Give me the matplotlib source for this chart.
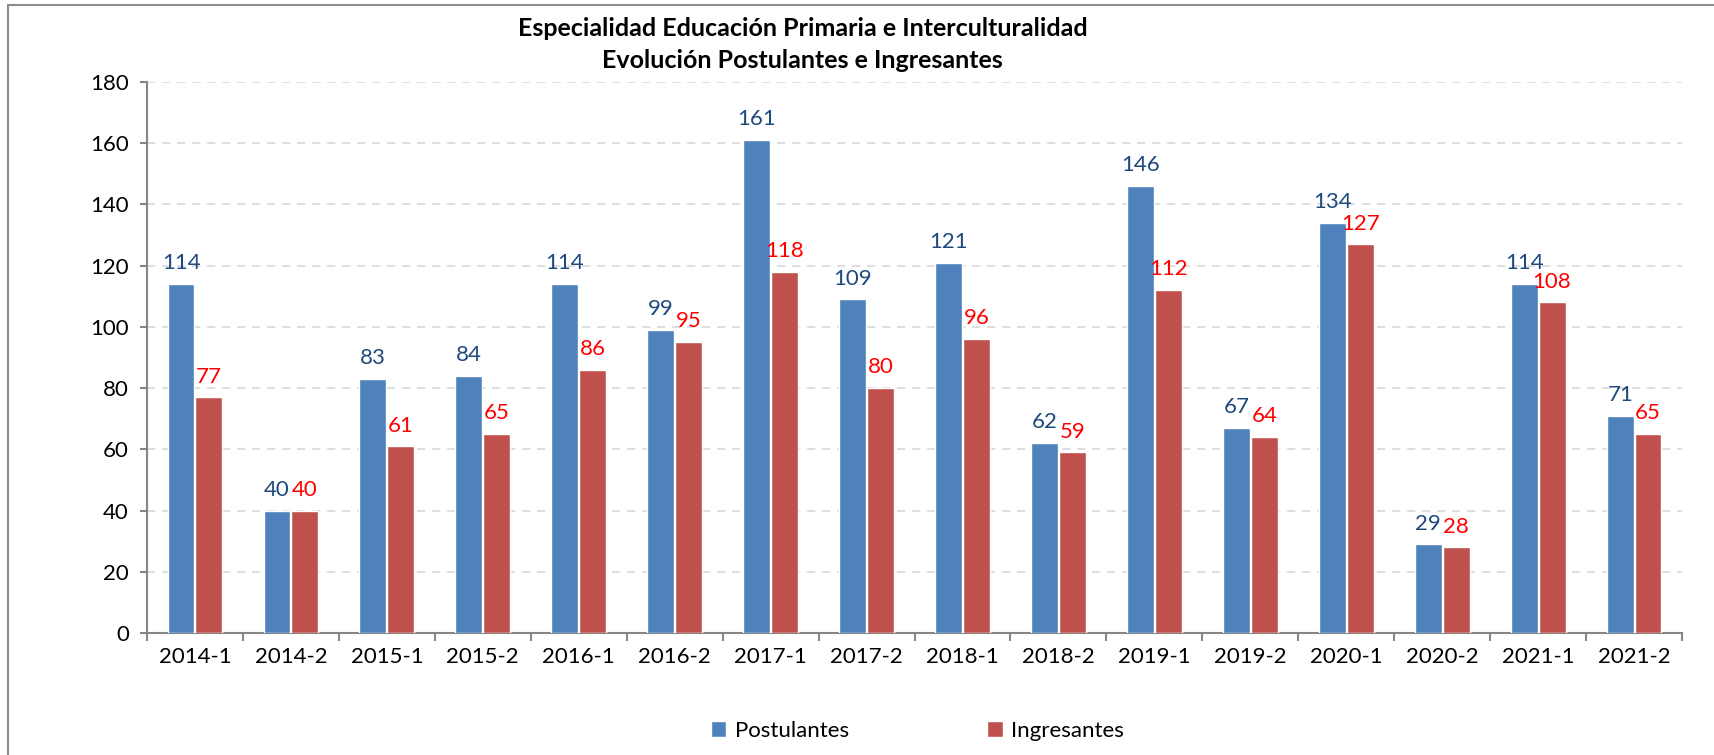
import matplotlib.pyplot as plt
import matplotlib.patches as mpatches
import numpy as np

plt.rcParams['font.family'] = ['Lato', 'DejaVu Sans']

periodos = ['2014-1', '2014-2', '2015-1', '2015-2', '2016-1', '2016-2', '2017-1', '2017-2',
            '2018-1', '2018-2', '2019-1', '2019-2', '2020-1', '2020-2', '2021-1', '2021-2']
postulantes = [114, 40, 83, 84, 114, 99, 161, 109, 121, 62, 146, 67, 134, 29, 114, 71]
ingresantes = [77, 40, 61, 65, 86, 95, 118, 80, 96, 59, 112, 64, 127, 28, 108, 65]

azul = '#4F81BD'
rojo = '#C0504D'

fig = plt.figure(figsize=(17.15, 7.55), dpi=100)
ax = fig.add_axes([0.0857, 0.1616, 0.8951, 0.7298])

x = np.arange(len(periodos))
w = 0.28
b1 = ax.bar(x - w / 2 - 0.005, postulantes, w, color=azul, edgecolor='white', linewidth=1, label='Postulantes', zorder=3)
b2 = ax.bar(x + w / 2 + 0.005, ingresantes, w, color=rojo, edgecolor='white', linewidth=1, label='Ingresantes', zorder=3)

for rect, v in zip(b1, postulantes):
    ax.text(rect.get_x() + rect.get_width() / 2, v + 3.5, str(v), ha='center', va='bottom',
            fontsize=16, color='#1F497D')
for rect, v in zip(b2, ingresantes):
    ax.text(rect.get_x() + rect.get_width() / 2, v + 3.5, str(v), ha='center', va='bottom',
            fontsize=16, color='#FF0000')

ax.set_xlim(-0.5, len(periodos) - 0.5)
ax.set_ylim(0, 180)
ax.set_yticks(range(0, 181, 20))
ax.set_xticks(x)
ax.set_xticklabels(periodos)
ax.set_xticks(np.arange(-0.5, len(periodos)), minor=True)
ax.tick_params(axis='x', which='major', length=0, pad=10, labelsize=16)
ax.tick_params(axis='x', which='minor', length=6, width=1.5, color='#868686')
ax.tick_params(axis='y', length=5, width=1.5, color='#868686', pad=8, labelsize=16)

ax.grid(axis='y', linestyle=(0, (5, 4)), color='#D9D9D9', linewidth=1.2, zorder=0)
for s in ['top', 'right']:
    ax.spines[s].set_visible(False)
for s in ['left', 'bottom']:
    ax.spines[s].set_color('#868686')
    ax.spines[s].set_linewidth(1.5)

fig.text(0.468, 0.962, 'Especialidad Educación Primaria e Interculturalidad', ha='center', va='center',
         fontsize=18, fontweight='bold')
fig.text(0.468, 0.920, 'Evolución Postulantes e Ingresantes', ha='center', va='center',
         fontsize=18, fontweight='bold')

fig.legend(handles=[b1, b2], loc='center', bbox_to_anchor=(0.535, 0.032), ncol=2, frameon=False,
           fontsize=16, handlelength=0.7, handleheight=0.7, columnspacing=6.2, handletextpad=0.4)

fig.patches.append(mpatches.Rectangle((0.0047, -0.2), 1.2, 1.2 - 0.0066, transform=fig.transFigure,
                                      fill=False, edgecolor='#8C8C8C', linewidth=1.5, clip_on=False))

fig.savefig('out.png', dpi=100)
